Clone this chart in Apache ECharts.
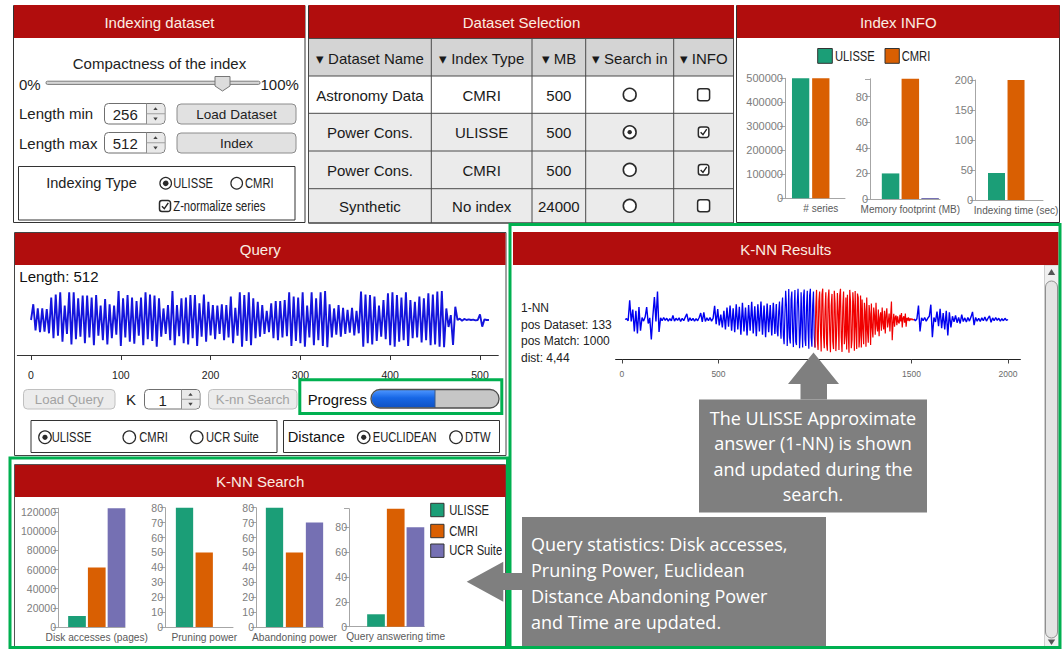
<!DOCTYPE html>
<html><head><meta charset="utf-8">
<script src="https://cdn.jsdelivr.net/npm/echarts@6/dist/echarts.min.js"></script>
<style>html,body{margin:0;padding:0;background:#fff;overflow:hidden}#c{width:1062px;height:649px}</style>
</head><body><div id="c"></div>
<script>
// ---------------- DATA ----------------
const methods = ['ULISSE', 'CMRI', 'UCR Suite'];
const infoSeriesCount = [500000, 500000, 0];
const infoMemoryMB = [20, 94, 0.8];
const infoIndexTimeSec = [45, 200, 0];
const infoLabels = ['# series', 'Memory footprint (MB)', 'Indexing time (sec)'];
const searchDiskPages = [11500, 62000, 124000];
const searchPruning = [80, 50, 0];
const searchAbandoning = [80, 50, 70];
const searchTime = [10, 95, 80];
const searchLabels = ['Disk accesses (pages)', 'Pruning power', 'Abandoning power', 'Query answering time'];

const tableHeaders = ['\u25BE Dataset Name', '\u25BE Index Type', '\u25BE MB', '\u25BE Search in', '\u25BE INFO'];
const datasetNames = ['Astronomy Data', 'Power Cons.', 'Power Cons.', 'Synthetic'];
const indexTypes = ['CMRI', 'ULISSE', 'CMRI', 'No index'];
const sizesMB = ['500', '500', '500', '24000'];
const searchInSelected = [false, true, false, false];
const infoChecked = [false, true, true, false];

const queryLength = 512;
const queryTicks = [0, 100, 200, 300, 400, 500];
const QUERY_STEP = 2.5;
const queryValues = [
 0.00,
 0.45,-0.30, 0.33,-0.35, 0.33,-0.33, 0.31,-0.38, 0.64,-0.52, 0.73,-0.45, 0.79,-0.62, 0.41,-0.40, 0.79,-0.70, 0.79,-0.55,
 0.62,-0.48, 0.70,-0.66, 0.70,-0.50, 0.64,-0.72, 0.71,-0.45, 0.41,-0.58, 0.60,-0.70, 0.45,-0.52, 0.41,-0.42, 0.83,-0.74,
 0.62,-0.50, 0.71,-0.62, 0.64,-0.68, 0.54,-0.45, 0.64,-0.72, 0.79,-0.55, 0.73,-0.60, 0.70,-0.76, 0.62,-0.48, 0.33,-0.40,
 0.43,-0.58, 0.83,-0.72, 0.43,-0.46, 0.62,-0.66, 0.64,-0.70, 0.71,-0.52, 0.71,-0.74, 0.48,-0.48, 0.73,-0.62, 0.52,-0.44,
 0.43,-0.55, 0.41,-0.40, 0.45,-0.58, 0.43,-0.50, 0.67,-0.66, 0.35,-0.45, 0.79,-0.76, 0.71,-0.60, 0.79,-0.72, 0.62,-0.52,
 0.52,-0.48, 0.43,-0.40, 0.26,-0.35, 0.48,-0.52, 0.54,-0.58, 0.54,-0.50, 0.57,-0.46, 0.79,-0.74, 0.67,-0.60, 0.64,-0.66,
 0.79,-0.76, 0.41,-0.50, 0.79,-0.72, 0.62,-0.58, 0.79,-0.74, 0.83,-0.78, 0.45,-0.50, 0.33,-0.42, 0.43,-0.48, 0.35,-0.40,
 0.29,-0.36, 0.35,-0.44, 0.26,-0.38, 0.81,-0.76, 0.73,-0.66, 0.71,-0.70, 0.67,-0.60, 0.41,-0.48, 0.57,-0.55, 0.76,-0.72,
 0.79,-0.76, 0.71,-0.62, 0.64,-0.58, 0.79,-0.74, 0.57,-0.52, 0.52,-0.50, 0.67,-0.64, 0.62,-0.58, 0.76,-0.72, 0.73,-0.70,
 0.81,-0.76, 0.83,-0.78,
 0.33,-0.20, 0.14,-0.71, 0.38, 0.00, 0.04,-0.02, 0.03, 0.00, 0.02, 0.00, 0.01,-0.01, 0.00, 0.16,-0.19, 0.02, 0.00, 0.00
];

const knnTicks = [0, 500, 1000, 1500, 2000];
// K-NN result signal, split in pieces: [start position, sampling step, values]
const knnQuietStart = 16, knnQuietStep = 8;
const knnQuiet = [
 0.00, 0.02,-0.03, 0.48,-0.05, 0.25,-0.30, 0.22,-0.35, 0.31,
 -0.28, 0.05,-0.04, 0.06, 0.31,-0.10, 0.04,-0.50, 0.08, 0.56,
 -0.05, 0.70,-0.31, 0.04,-0.03, 0.05,-0.02, 0.03,-0.04, 0.02,
 -0.03, 0.10,-0.04, 0.03,-0.02, 0.04,-0.05, 0.03,-0.03, 0.06,
 0.14,-0.05, 0.04,-0.03, 0.03,-0.04, 0.02,-0.03, 0.05, 0.16,
 -0.06, 0.18,-0.05, 0.04,-0.03, 0.05,-0.04, 0.03, 0.34,-0.12,
 0.26,-0.15, 0.12,-0.20, 0.22,-0.25, 0.30,-0.18, 0.35,-0.28,
 0.28,-0.32, 0.38,-0.25, 0.32,-0.38, 0.42,-0.30, 0.30,-0.40,
 0.36,-0.28, 0.44,-0.35, 0.33,-0.42, 0.38,-0.30, 0.45,-0.38,
 0.35,-0.44, 0.40,-0.32, 0.36,-0.40, 0.42,-0.36, 0.38
];
const knnBurstStart = 800, knnBurstStep = 4;
const knnBurst = [
 0.38,-0.30,-0.42, 0.20, 0.45,-0.15,-0.48, 0.30, 0.55,-0.40,
 -0.62, 0.10, 0.72, 0.35,-0.66,-0.20, 0.76,-0.45,-0.60, 0.50,
 0.70,-0.30,-0.69, 0.25, 0.74,-0.55,-0.64, 0.40, 0.77, 0.20,
 -0.72,-0.35, 0.68,-0.10,-0.70, 0.55, 0.75,-0.50,-0.66, 0.30,
 0.72,-0.25,-0.73, 0.60, 0.77,-0.45,-0.68, 0.35, 0.70,-0.40,
 -0.70
];
const knnMatchStart = 1000, knnMatchStep = 4;
const knnMatch = [
 -0.70, 0.30, 0.74,-0.50,-0.76, 0.45, 0.70,-0.20,-0.80, 0.62,
 0.77,-0.40,-0.72, 0.25, 0.68,-0.60,-0.78, 0.50, 0.75,-0.30,
 -0.82, 0.35, 0.64,-0.55,-0.74, 0.72, 0.40,-0.79,-0.35, 0.66,
 0.20,-0.76, 0.60, 0.77,-0.45,-0.81, 0.30, 0.70,-0.62,-0.40,
 0.55,-0.75, 0.62,-0.30,-0.83, 0.74, 0.45,-0.72,-0.50, 0.68,
 0.35,-0.78, 0.71,-0.20,-0.74, 0.65, 0.55,-0.70,-0.40, 0.60,
 -0.70, 0.50,-0.25,-0.62, 0.42, 0.20,-0.68, 0.55,-0.30,-0.58,
 0.36, 0.15,-0.64, 0.40,-0.20,-0.45, 0.30, 0.10,-0.38, 0.42,
 -0.15,-0.30, 0.25,-0.42, 0.05, 0.18,-0.28, 0.30,-0.10,-0.25,
 0.22,-0.35, 0.12, 0.28,-0.20,-0.05, 0.15,-0.30, 0.10, 0.45,
 -0.52,-0.10, 0.14,-0.18, 0.06, 0.10,-0.14, 0.08,-0.06,-0.10,
 0.12,-0.05, 0.16,-0.20, 0.04, 0.08,-0.08, 0.15,-0.18, 0.04,
 -0.03, 0.05,-0.04, 0.03,-0.02, 0.02, 0.01,-0.02, 0.01
];
const knnAfterStart = 1512, knnAfterStep = 8;
const knnAfter = [
 0.01,-0.03, 0.02, 0.35,-0.30, 0.04,-0.03, 0.05,-0.04, 0.03,
 0.08, 0.37,-0.44, 0.05,-0.06, 0.20,-0.17, 0.27,-0.22, 0.16,
 -0.25, 0.22,-0.40, 0.18,-0.20, 0.08,-0.06, 0.10,-0.08, 0.05,
 -0.10, 0.12,-0.05, 0.04,-0.06, 0.05,-0.04, 0.06, 0.19,-0.14,
 0.05,-0.04, 0.03,-0.05, 0.04,-0.03, 0.06,-0.04, 0.03, 0.09,
 -0.07, 0.04,-0.03, 0.05,-0.02, 0.03,-0.04, 0.02,-0.03, 0.03,
 -0.02, 0.00
];
const knnInfo = ['1-NN', 'pos Dataset: 133', 'pos Match: 1000', 'dist: 4,44'];

// ---------------- STYLE ----------------
const FONT = "'Liberation Sans', Arial, Helvetica, sans-serif";
const CFONT = "'Open Sans', 'Noto Sans', sans-serif";
const RED = '#b10d0d', HEAD_TXT = '#fbeee2', GREEN = '#00b050', CALLOUT = '#7f7f7f';
const barColors = ['#1b9e77', '#d95f02', '#7570b3'];
const NARROW = 0.8;

const G = [];
function R(x, y, w, h, o) { o = o || {}; G.push({ type: 'rect', z: o.z ?? 1, silent: true, shape: { x, y, width: w, height: h, r: o.r || 0 }, style: { fill: o.fill || 'none', stroke: o.stroke || 'none', lineWidth: o.lw || 1 } }); }
function T(x, y, s, o) { o = o || {}; G.push({ type: 'text', z: o.z ?? 3, silent: true, x, y, scaleX: o.sx || 1, style: { text: s, fill: o.c || '#222', fontSize: o.s || 15, fontFamily: o.f || FONT, fontWeight: o.w || 'normal', align: o.a || 'left', textAlign: o.a || 'left', verticalAlign: 'middle', textVerticalAlign: 'middle' } }); }
function C(cx, cy, r, o) { o = o || {}; G.push({ type: 'circle', z: o.z ?? 3, silent: true, shape: { cx, cy, r }, style: { fill: o.fill || '#fff', stroke: o.stroke || 'none', lineWidth: o.lw || 1 } }); }
function P(points, o) { o = o || {}; G.push({ type: 'polygon', z: o.z ?? 3, silent: true, shape: { points }, style: { fill: o.fill || 'none', stroke: o.stroke || 'none', lineWidth: o.lw || 1 } }); }
function L(points, o) { o = o || {}; G.push({ type: 'polyline', z: o.z ?? 3, silent: true, shape: { points }, style: { fill: 'none', stroke: o.stroke || '#333', lineWidth: o.lw || 1 } }); }
function header(x, y, w, h, title) { R(x, y, w, h, { fill: RED, z: 2 }); T(x + w / 2, y + h / 2 + 0.5, title, { a: 'center', s: 15, c: HEAD_TXT }); }
function radio(cx, cy, sel, r, dr, lw) { C(cx, cy, r, { fill: '#fff', stroke: '#2a2a2a', lw: lw || 1.2 }); if (sel) C(cx, cy, dr, { fill: '#2a2a2a' }); }
function checkbox(cx, cy, size, checked) {
  R(cx - size / 2, cy - size / 2, size, size, { r: 2.5, fill: '#fff', stroke: '#2a2a2a', lw: 1.5, z: 3 });
  if (checked) L([[cx - size * 0.28, cy + 0.2], [cx - size * 0.06, cy + size * 0.24], [cx + size * 0.3, cy - size * 0.28]], { stroke: '#222', lw: 1.4, z: 4 });
}
function button(x, y, w, h, label, o) { o = o || {}; R(x, y, w, h, { r: 4, fill: o.fill || '#e1e1e1', stroke: o.stroke || '#8c8c8c', lw: 1 }); T(x + w / 2, y + h / 2 + 0.5, label, { a: 'center', s: o.s || 13.5, c: o.c || '#222' }); }
function spinInput(x, y, w, h, val, valX, tx) {
  R(x, y, w, h, { r: 4, fill: '#fff', stroke: '#6f6f6f', lw: 1 });
  const sx = x + w - 18.5;
  R(sx, y + 0.6, 17.9, h - 1.2, { r: [0, 3.5, 3.5, 0], fill: '#e9e9e9', z: 2 });
  L([[sx, y], [sx, y + h]], { stroke: '#8f8f8f' });
  L([[sx, y + h / 2], [x + w, y + h / 2]], { stroke: '#9f9f9f' });
  const cx = sx + 9;
  P([[cx, y + h * 0.25 - 1.5], [cx - 2.2, y + h * 0.25 + 1.3], [cx + 2.2, y + h * 0.25 + 1.3]], { fill: '#444' });
  P([[cx, y + h * 0.75 + 1.5], [cx - 2.2, y + h * 0.75 - 1.3], [cx + 2.2, y + h * 0.75 - 1.3]], { fill: '#444' });
  T(valX, y + h / 2 + 0.8, val, { s: 15, a: tx || 'left' });
}
function narrow(x, y, s, size) { T(x, y, s, { s: size || 14, sx: NARROW }); }

// ---- Panel: Indexing dataset
R(13.5, 5.5, 291.5, 217, { stroke: '#333' });
header(14, 5, 291, 33, 'Indexing dataset');
T(159.5, 63.5, 'Compactness of the index', { a: 'center', s: 15 });
T(19, 84.5, '0%', { s: 15 });
R(46, 81.2, 214, 3.2, { r: 1.5, fill: '#d6d6d6', stroke: '#7a7a7a', lw: 1 });
P([[215, 76.5], [230, 76.5], [230, 86], [222.5, 91], [215, 86]], { fill: '#dcdcdc', stroke: '#777', lw: 1 });
T(260.5, 84.5, '100%', { s: 15 });
T(19, 113.5, 'Length min', { s: 15 });
spinInput(104.5, 103.5, 60.5, 20.5, '256', 112.7);
button(177, 104, 119, 20, 'Load Dataset');
T(19, 143, 'Length max', { s: 15 });
spinInput(104.5, 132.5, 60.5, 20.5, '512', 112.7);
button(177, 133, 119, 20, 'Index');
R(18.5, 166.5, 276.5, 53.5, { stroke: '#333' });
T(91.5, 183, 'Indexing Type', { a: 'center', s: 14.6 });
radio(165.7, 183.3, true, 5.8, 2.8);
narrow(173.3, 183.5, methods[0]);
radio(236.7, 183.3, false, 5.8, 2.8);
narrow(245, 183.5, methods[1]);
checkbox(165, 206, 11, true);
narrow(173.3, 206.5, 'Z-normalize series');

// ---- Panel: Dataset Selection
header(309, 5, 425, 33, 'Dataset Selection');
const colX = [308.5, 431.3, 532, 585.7, 673.7, 733.5];
const rowY = [38.5, 76, 113.3, 151, 188.7, 223];
R(309, rowY[0], 424.5, rowY[1] - rowY[0], { fill: '#d4d4d4' });
for (let r = 0; r < 4; r++) R(309, rowY[r + 1], 424.5, rowY[r + 2] - rowY[r + 1], { fill: r === 0 ? '#ffffff' : '#ebebeb' });
colX.forEach(x => L([[x, rowY[0]], [x, rowY[5]]], { stroke: '#4a4a4a', z: 2 }));
rowY.forEach(y => L([[colX[0], y], [colX[5], y]], { stroke: '#4a4a4a', z: 2 }));
R(308.5, 5.5, 425, 217.5, { stroke: '#333' });
const colC = colX.slice(0, 5).map((x, i) => (x + colX[i + 1]) / 2);
tableHeaders.forEach((h, i) => T(colC[i], (rowY[0] + rowY[1]) / 2 + 1, h, { a: 'center', s: 15, c: '#1a1a1a' }));
for (let r = 0; r < 4; r++) {
  const cy = (rowY[r + 1] + rowY[r + 2]) / 2 + 0.5;
  T(colC[0], cy, datasetNames[r], { a: 'center', s: 15, c: '#1a1a1a' });
  T(colC[1], cy, indexTypes[r], { a: 'center', s: 15, c: '#1a1a1a' });
  T(colC[2], cy, sizesMB[r], { a: 'center', s: 15, c: '#1a1a1a' });
  radio(colC[3], cy - 0.5, searchInSelected[r], 6.4, 2.2, 1.6);
  checkbox(colC[4], cy - 0.5, infoChecked[r] ? 10.5 : 12, infoChecked[r]);
}

// ---- Panel: Index INFO
R(736.5, 5.5, 323, 217, { stroke: '#333' });
header(737, 5, 322.5, 33, 'Index INFO');
R(817.7, 48.5, 14.6, 14.8, { fill: barColors[0], stroke: '#333', lw: 1 });
narrow(835, 56.2, methods[0]);
R(885, 48.5, 14.3, 14.8, { fill: barColors[1], stroke: '#333', lw: 1 });
narrow(901.7, 56.2, methods[1]);

// ---- Panel: Query
R(14.5, 232.5, 491.5, 223, { stroke: '#444' });
header(15, 233, 490.5, 32, 'Query');
T(19.3, 276.7, 'Length: ' + queryLength, { s: 15, c: '#111' });
button(23.5, 389.5, 91.5, 19.5, 'Load Query', { fill: '#ececec', stroke: '#c0c0c0', c: '#a3a3a3', s: 13.2 });
T(126, 399.8, 'K', { s: 15 });
spinInput(144.5, 389.5, 55.5, 19.5, '1', 162.7, 'center');
button(208.5, 389.5, 88.5, 19.5, 'K-nn Search', { fill: '#ececec', stroke: '#c0c0c0', c: '#a3a3a3', s: 13.3 });
R(299.8, 379.8, 202, 33.7, { stroke: GREEN, lw: 3, z: 50 });
T(307.7, 399.5, 'Progress', { s: 14.8, c: '#111' });
R(371, 389.5, 128, 18.5, { r: 9, fill: '#c6c6c6', z: 2 });
G.push({ type: 'rect', z: 3, silent: true, shape: { x: 371.6, y: 390.1, width: 63.4, height: 17.3, r: [8.6, 0, 0, 8.6] },
  style: { fill: new echarts.graphic.LinearGradient(0, 0, 0, 1, [{ offset: 0, color: '#4c95ff' }, { offset: 0.45, color: '#1767e6' }, { offset: 1, color: '#0f52c4' }]) } });
L([[435, 390], [435, 408]], { stroke: '#3a5a8a', lw: 1, z: 4 });
R(371, 389.5, 128, 18.5, { r: 9, stroke: '#4d4d4d', lw: 1.3, z: 5 });
R(31, 420.5, 246, 32, { stroke: '#333' });
radio(45, 437.3, true, 6.3, 2.6);
narrow(51.7, 437.6, methods[0]);
radio(129.3, 437.3, false, 6.3, 2.6);
narrow(139.3, 437.6, methods[1]);
radio(196.7, 437.3, false, 6.3, 2.6);
narrow(206, 437.6, methods[2]);
R(283.5, 420.5, 216, 32, { stroke: '#333' });
T(287.7, 437, 'Distance', { s: 14.7, c: '#111' });
radio(363.7, 437.3, true, 6.3, 2.6);
narrow(372.7, 437.6, 'EUCLIDEAN');
radio(456, 437.3, false, 6.3, 2.6);
narrow(465, 437.6, 'DTW');

// ---- Panel: K-NN Search
R(14.5, 464.5, 491, 183, { stroke: '#555' });
header(15, 465, 490.5, 32, 'K-NN Search');
[503.3, 524.3, 544].forEach((y, i) => {
  R(430.7, y, 13.3, 13.4, { fill: barColors[i], stroke: '#333', lw: 1 });
  narrow(449.3, y + 7, methods[i]);
});
R(10, 458, 497.5, 189.5, { stroke: GREEN, lw: 3, z: 50 });

// ---- Panel: K-NN Results
header(513, 232, 545.5, 33, 'K-NN Results');
knnInfo.forEach((s, i) => T(521, 308 + i * 16.6, s, { s: 12, c: '#222' }));
R(1044.5, 265, 14, 382, { fill: '#f0f0f0', stroke: '#cfcfcf' });
R(1045.5, 281, 12, 357, { r: 6, fill: '#e4e4e4', stroke: '#8f8f8f' });
P([[1051.5, 269], [1047.8, 275], [1055.2, 275]], { fill: '#555' });
P([[1051.5, 645], [1047.8, 639.5], [1055.2, 639.5]], { fill: '#555' });
R(510, 224.5, 550, 423, { stroke: GREEN, lw: 3, z: 50 });

// ---- Callouts (overlay)
P([[813.5, 352.5], [839, 384], [827, 384], [827, 399.6], [800.5, 399.6], [800.5, 384], [788, 384]], { fill: CALLOUT, z: 100 });
R(699, 399.5, 228, 113, { fill: CALLOUT, z: 100 });
['The ULISSE Approximate', 'answer (1-NN) is shown', 'and updated during the', 'search.'].forEach((s, i) =>
  T(813, 417.5 + i * 25.6, s, { a: 'center', s: 18, f: CFONT, c: '#ffffff', z: 101 }));
R(522, 517, 304, 129, { fill: CALLOUT, z: 100 });
P([[466.7, 581.7], [503.3, 561.7], [503.3, 573], [523, 573], [523, 590], [503.3, 590], [503.3, 601.7]], { fill: CALLOUT, z: 100 });
['Query statistics: Disk accesses,', 'Pruning Power, Euclidean', 'Distance Abandoning Power', 'and Time are updated.'].forEach((s, i) =>
  T(531, 543.5 + i * 26.3, s, { s: 18, f: CFONT, c: '#ffffff', z: 101 }));

// ---------------- CHARTS ----------------
const barCharts = [
  { vals: infoSeriesCount, label: infoLabels[0], left: 785, right: 845, top: 78.3, bottom: 198.3, min: -0.775, max: 2.2, bw: 17.3, interval: 100000, fs: 11, lfs: 10 },
  { vals: infoMemoryMB, label: infoLabels[1], left: 870, right: 940, top: 78.8, bottom: 199, min: -1.04, max: 2.5, bw: 17.5, interval: 20, fs: 11, lfs: 10 },
  { vals: infoIndexTimeSec, label: infoLabels[2], left: 975, right: 1043, top: 80, bottom: 200, min: -1.1, max: 2.38, bw: 17, interval: 50, fs: 11, lfs: 10 },
  { vals: searchDiskPages, label: searchLabels[0], left: 58, right: 125, top: 508.2, bottom: 627, min: -0.962, max: 2.43, bw: 17.7, interval: 20000, fs: 10.5, lfs: 10.2 },
  { vals: searchPruning, label: searchLabels[1], left: 165, right: 233, top: 507.7, bottom: 627, min: -0.99, max: 2.46, bw: 17.3, interval: 10, fs: 10.5, lfs: 10.2 },
  { vals: searchAbandoning, label: searchLabels[2], left: 256, right: 323.3, top: 507.7, bottom: 627, min: -0.925, max: 2.44, bw: 17.3, interval: 10, fs: 10.5, lfs: 10.2 },
  { vals: searchTime, label: searchLabels[3], left: 349, right: 424.3, top: 508.7, bottom: 626.7, min: -1.37, max: 2.45, bw: 17.7, interval: 20, fs: 10.5, lfs: 10.2 }
];
const grids = [], xAxes = [], yAxes = [], series = [];
barCharts.forEach((b, i) => {
  grids.push({ left: b.left, top: b.top, width: b.right - b.left, height: b.bottom - b.top });
  xAxes.push({ type: 'value', gridIndex: i, min: b.min, max: b.max,
    axisLine: { show: true, onZero: false, lineStyle: { color: '#a6a6a6' } }, axisTick: { show: false }, splitLine: { show: false },
    axisLabel: { customValues: [1], formatter: () => b.label, fontSize: b.lfs, color: '#5a5a5a', fontFamily: FONT, margin: 5 } });
  yAxes.push({ type: 'value', gridIndex: i, min: 0, max: 'dataMax', interval: b.interval,
    axisLine: { show: true, onZero: false, lineStyle: { color: '#a6a6a6' } },
    axisTick: { show: true, length: 5, lineStyle: { color: '#a6a6a6' } }, splitLine: { show: false },
    axisLabel: { fontSize: b.fs, color: '#7d7d7d', fontFamily: FONT, margin: 2, formatter: v => (v % b.interval === 0 ? String(v) : '') } });
  series.push({ type: 'bar', xAxisIndex: i, yAxisIndex: i, barWidth: b.bw, silent: true,
    data: b.vals.map((v, k) => ({ value: [k, v], itemStyle: { color: barColors[k] } })) });
});
// query line chart (index 7)
grids.push({ left: 17.3, top: 285, width: 481, height: 70 });
xAxes.push({ type: 'value', gridIndex: 7, min: -15.3, max: 520.4,
  axisLine: { onZero: false, lineStyle: { color: '#333', width: 1 } },
  axisTick: { customValues: queryTicks, length: 5, lineStyle: { color: '#333' } }, splitLine: { show: false },
  axisLabel: { customValues: queryTicks, formatter: v => String(v), fontSize: 10.5, color: '#222', fontFamily: FONT, margin: 14 } });
yAxes.push({ type: 'value', gridIndex: 7, min: -1, max: 1, show: false });
series.push({ type: 'line', xAxisIndex: 7, yAxisIndex: 7, showSymbol: false, silent: true,
  lineStyle: { color: '#1414dc', width: 1.9 }, data: queryValues.map((v, i) => [i * QUERY_STEP, v]) });
// knn result chart (index 8)
grids.push({ left: 615.6, top: 279.5, width: 404.8, height: 80 });
xAxes.push({ type: 'value', gridIndex: 8, min: -33, max: 2064,
  axisLine: { onZero: false, lineStyle: { color: '#222', width: 1 } },
  axisTick: { customValues: knnTicks, length: 4, lineStyle: { color: '#444' } }, splitLine: { show: false },
  axisLabel: { customValues: knnTicks, formatter: v => String(v), fontSize: 8.5, color: '#6a6a6a', fontFamily: FONT, margin: 10 } });
yAxes.push({ type: 'value', gridIndex: 8, min: -1, max: 1, show: false });
const knnLine = (arr, start, step, color, w) => ({ type: 'line', xAxisIndex: 8, yAxisIndex: 8, showSymbol: false, silent: true,
  lineStyle: { color, width: w }, data: arr.map((v, i) => [start + i * step, v]) });
series.push(knnLine(knnQuiet, knnQuietStart, knnQuietStep, '#0000f0', 1.4));
series.push(knnLine(knnBurst, knnBurstStart, knnBurstStep, '#0000f0', 1.2));
series.push(knnLine(knnAfter, knnAfterStart, knnAfterStep, '#0000f0', 1.4));
series.push(knnLine(knnMatch, knnMatchStart, knnMatchStep, '#f00000', 1.2));

const chart = echarts.init(document.getElementById('c'), null, { renderer: 'svg', width: 1062, height: 649 });
chart.setOption({
  backgroundColor: '#ffffff',
  animation: false,
  textStyle: { fontFamily: FONT },
  grid: grids, xAxis: xAxes, yAxis: yAxes, series,
  graphic: { elements: G }
});
</script></body></html>
